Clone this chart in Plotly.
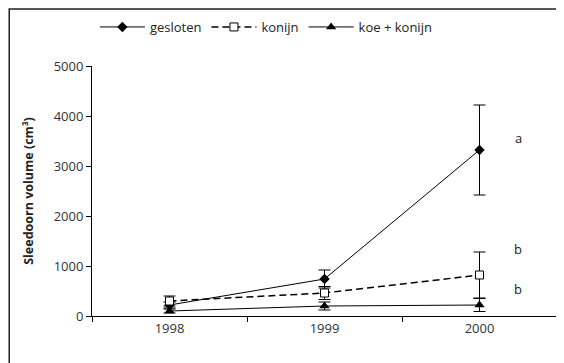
import plotly.graph_objects as go

years = ["1998", "1999", "2000"]
gesloten = [220, 740, 3320]
gesloten_err = [60, 180, 900]
konijn = [300, 460, 820]
konijn_err = [100, 130, 460]
koe_konijn = [100, 200, 220]
koe_konijn_err = [40, 80, 130]
series_names = ["gesloten", "konijn", "koe + konijn"]
letters = ["a", "b", "b"]
letter_y = [3560, 1340, 540]
y_ticks = [0, 1000, 2000, 3000, 4000, 5000]

FONT = "Open Sans"
fig = go.Figure()

fig.add_trace(go.Scatter(
    x=years, y=gesloten, name=series_names[0], mode="lines+markers",
    line=dict(color="black", width=1),
    marker=dict(symbol="diamond", size=8, color="black"),
    error_y=dict(type="data", array=gesloten_err, color="black", thickness=1, width=6),
))
fig.add_trace(go.Scatter(
    x=years, y=konijn, name=series_names[1], mode="lines+markers",
    line=dict(color="black", width=1.5, dash="7px,4px"),
    marker=dict(symbol="square", size=8, color="white", line=dict(color="black", width=1)),
    error_y=dict(type="data", array=konijn_err, color="black", thickness=1, width=6),
))
fig.add_trace(go.Scatter(
    x=years, y=koe_konijn, name=series_names[2], mode="lines+markers",
    line=dict(color="black", width=1),
    marker=dict(symbol="triangle-up", size=9, color="black"),
    error_y=dict(type="data", array=koe_konijn_err, color="black", thickness=1, width=6),
))

for t, yv in zip(letters, letter_y):
    fig.add_annotation(x=2.25, y=yv, xref="x", yref="y", text=t, showarrow=False,
                       font=dict(family=FONT, size=13, color="#222"))

fig.add_shape(type="rect", xref="paper", yref="paper",
              x0=-0.178, x1=1.2, y0=-0.5, y1=1.228,
              line=dict(color="#222", width=1.5), layer="below")

fig.update_layout(
    width=556, height=355,
    margin=dict(l=84, r=7, t=58, b=47, autoexpand=False),
    paper_bgcolor="white", plot_bgcolor="white",
    font=dict(family=FONT, size=13, color="#333"),
    showlegend=True,
    legend=dict(orientation="h", x=0.375, xanchor="center", y=1.156, yanchor="middle",
                font=dict(family=FONT, size=13, color="#222"),
                itemwidth=45, tracegroupgap=0, bgcolor="rgba(0,0,0,0)"),
    xaxis=dict(type="category", range=[-0.5, 2.5], tickson="boundaries",
               ticks="outside", ticklen=5, tickcolor="black", automargin=False,
               showline=True, linecolor="black", linewidth=1,
               showgrid=False, zeroline=False,
               tickfont=dict(family=FONT, size=13, color="#333")),
    yaxis=dict(range=[0, 5000], tickvals=y_ticks, automargin=False,
               ticks="outside", ticklen=5, tickcolor="black",
               showline=True, linecolor="black", linewidth=1,
               showgrid=False, zeroline=False,
               title=dict(text="<b>Sleedoorn volume (cm³)</b>", standoff=17,
                          font=dict(family=FONT, size=12.5, color="#222")),
               tickfont=dict(family=FONT, size=13, color="#333")),
)

fig.write_html("out.html")
